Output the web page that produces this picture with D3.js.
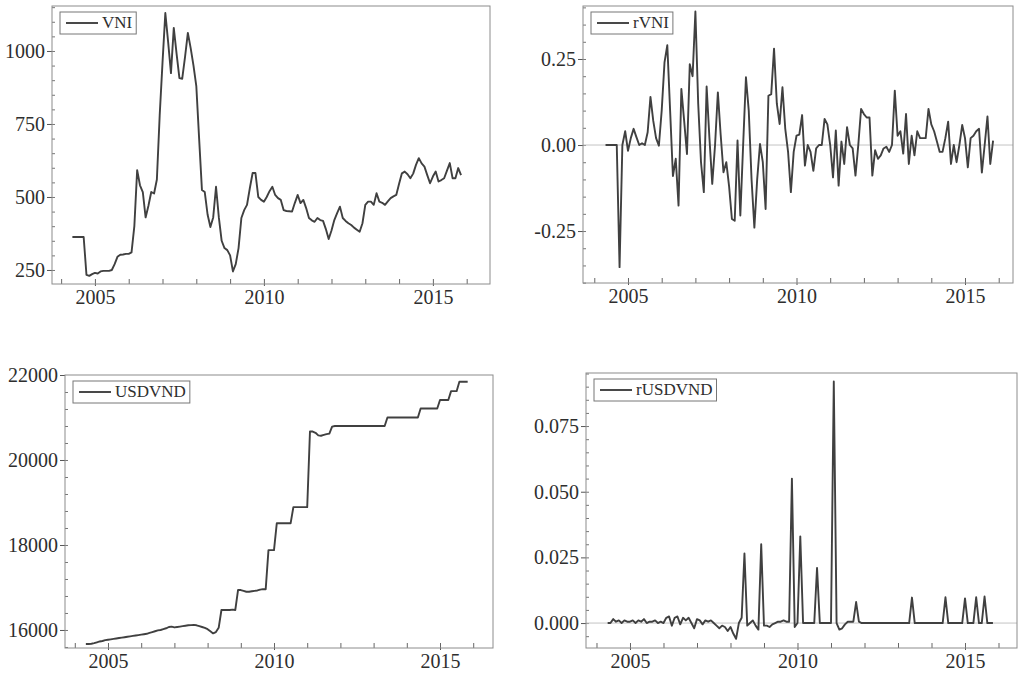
<!DOCTYPE html>
<html>
<head>
<meta charset="utf-8">
<script src="https://cdn.jsdelivr.net/npm/d3@7"></script>
<style>
  body { margin: 0; background: #fff; }
  svg text { font-family: "Liberation Serif", "Times New Roman", Times, serif; fill: #2e2e2e; }
</style>
</head>
<body>
<svg id="chart" width="1019" height="674"></svg>
<script>
// monthly observations, May 2004 .. Nov 2015
const startYear = 2004, startMonth = 4;
const serif = '"Liberation Serif", "Times New Roman", Times, serif';

const vni = [
  363, 363, 363, 363, 363, 233, 230, 236,
  240, 238, 245, 247, 247, 247, 250, 270, 295, 302, 303, 305,
  305, 310, 400, 592, 540, 517, 430, 470, 517, 512, 560, 780,
  960, 1130, 1030, 924, 1079, 990, 907, 905, 980, 1062, 1010, 950,
  880, 700, 524, 517, 440, 397, 430, 535, 430, 350, 325, 318,
  300, 245, 270, 325, 428, 455, 473, 530, 582, 582, 500, 490,
  484, 500, 520, 535, 507, 496, 490, 455, 452, 451, 450, 480,
  507, 479, 490, 462, 428, 420, 415, 428, 421, 418, 390, 356,
  385, 421, 445, 467, 428, 418, 410, 404, 395, 388, 381, 410,
  473, 484, 484, 473, 513, 484, 480, 473, 485, 496, 502, 507,
  545, 581, 587, 578, 564, 580, 610, 633, 615, 604, 575, 547,
  570, 587, 553, 558, 564, 590, 616, 564, 564, 599, 575
];

const rvni = [
  0, 0, 0, 0, 0, -0.355, 0.0, 0.04,
  -0.017, 0.02, 0.047, 0.023, 0.0, 0.005, 0.0, 0.037, 0.14, 0.07, 0.02, -0.002,
  0.1, 0.24, 0.29, 0.1, -0.09, -0.04, -0.176, 0.163, 0.07, -0.026, 0.235, 0.2,
  0.388, 0.12, -0.05, -0.137, 0.17, 0.02, -0.113, 0.0, 0.153, 0.03, -0.079, -0.05,
  -0.12, -0.215, -0.22, 0.013, -0.205, 0.0, 0.197, 0.1, -0.1, -0.24, -0.1, 0.003,
  -0.05, -0.186, 0.143, 0.148, 0.28, 0.12, 0.061, 0.168, 0.047, -0.02, -0.137, -0.02,
  0.027, 0.03, 0.087, -0.06, 0.0, -0.02, -0.075, -0.01, 0.0, 0.0, 0.076, 0.06,
  0.0, -0.094, 0.042, -0.118, 0.01, -0.055, 0.052, 0.0, -0.01, -0.089, 0.0, 0.105,
  0.09, 0.08, 0.08, -0.089, -0.015, -0.04, -0.03, -0.01, -0.005, -0.02, 0.0, 0.158,
  0.027, 0.04, -0.025, 0.09, -0.055, 0.027, -0.03, 0.04, 0.02, 0.02, 0.02, 0.105,
  0.06, 0.04, 0.01, -0.02, -0.02, 0.02, 0.068, -0.055, 0.0, -0.05, 0.0, 0.058,
  0.02, -0.065, 0.02, 0.027, 0.04, 0.047, -0.08, 0.0, 0.083, -0.055, 0.013
];

const usdvnd = [
  15670, 15670, 15675, 15690, 15710, 15730, 15740, 15760,
  15770, 15780, 15790, 15800, 15810, 15820, 15830, 15840, 15850, 15860, 15870, 15880,
  15890, 15900, 15910, 15930, 15950, 15970, 15990, 16000, 16020, 16040, 16070, 16080,
  16060, 16070, 16080, 16090, 16100, 16110, 16115, 16120, 16110, 16090, 16070, 16050,
  16020, 15970, 15920, 15950, 16050, 16470, 16470, 16470, 16470, 16480, 16470, 16940,
  16940, 16920, 16900, 16900, 16910, 16920, 16930, 16950, 16960, 16960, 17880, 17880,
  17880, 18510, 18510, 18510, 18510, 18510, 18510, 18890, 18890, 18890, 18890, 18890,
  18890, 20670, 20670, 20640, 20580, 20570, 20590, 20610, 20620, 20785, 20800, 20800,
  20800, 20800, 20800, 20800, 20800, 20800, 20800, 20800, 20800, 20800, 20800, 20800,
  20800, 20800, 20800, 20800, 20800, 21000, 21000, 21000, 21000, 21000, 21000, 21000,
  21000, 21000, 21000, 21000, 21000, 21210, 21210, 21210, 21210, 21210, 21210, 21210,
  21410, 21410, 21410, 21410, 21620, 21620, 21620, 21840, 21840, 21840, 21840
];

const rusdvnd = [
  0, 0, 0.0015, 0.0005, 0.001, 0.0, 0.001, 0.0005,
  0.0005, 0.001, 0.0, 0.001, 0.0005, 0.0015, 0.0, 0.0005, 0.0005, 0.001, 0.0, 0.0005,
  0.0, 0.002, 0.0025, -0.001, 0.002, 0.0025, -0.0005, 0.002, 0.001, 0.002, 0.0, -0.002,
  0.0015, 0.001, -0.0005, 0.001, 0.0005, 0.001, 0.0, -0.001, -0.002, -0.001, -0.0015, -0.003,
  -0.0015, -0.004, -0.006, 0.0, 0.002, 0.0265, -0.001, 0.0, 0.001, -0.001, -0.0025, 0.03,
  -0.001, -0.001, -0.0015, -0.0005, 0.0, 0.0005, 0.0005, 0.001, 0.0005, 0.0005, 0.055, -0.0015,
  0.0, 0.033, 0, 0, 0, 0, 0, 0.021, 0, 0, 0, 0,
  0, 0.092, 0, -0.0025, -0.002, -0.0005, 0.0005, 0.0005, 0.0005, 0.008, 0.0005, 0,
  0, 0, 0, 0, 0, 0, 0, 0, 0, 0, 0, 0,
  0, 0, 0, 0, 0, 0.0097, 0, 0, 0, 0, 0, 0,
  0, 0, 0, 0, 0, 0.0098, 0, 0, 0, 0, 0, 0,
  0.0094, 0, 0, 0, 0.0098, 0, 0, 0.0101, 0, 0, 0
];

const yearTicks = [2005, 2010, 2015];
const vniTicks = [250, 500, 750, 1000];
const rvniTicks = [-0.25, 0, 0.25];
const usdTicks = [16000, 18000, 20000, 22000];
const rusdTicks = [0, 0.025, 0.05, 0.075];

const months = vni.map((d, i) => startYear + (startMonth + i) / 12);

const panels = [
  { name: "VNI", values: vni, box: [52, 6, 490, 284], xDom: [2003.73, 2016.69], yDom: [202, 1154],
    ticks: vniTicks, minor: 50, fmt: d => d.toFixed(0), zero: false },
  { name: "rVNI", values: rvni, box: [583, 6, 1013, 283], xDom: [2003.665, 2016.424], yDom: [-0.401, 0.404],
    ticks: rvniTicks, minor: 0.05, fmt: d => d.toFixed(2), zero: true },
  { name: "USDVND", values: usdvnd, box: [65, 375, 493, 648], xDom: [2003.705, 2016.596], yDom: [15576, 22000],
    ticks: usdTicks, minor: 400, fmt: d => d.toFixed(0), zero: false },
  { name: "rUSDVND", values: rusdvnd, box: [586, 373, 1017, 648], xDom: [2003.687, 2016.552], yDom: [-0.0095, 0.0952],
    ticks: rusdTicks, minor: 0.005, fmt: d => d.toFixed(3), zero: true }
];

const svg = d3.select("#chart");

panels.forEach(p => {
  const [x0, y0, x1, y1] = p.box;
  const x = d3.scaleLinear().domain(p.xDom).range([x0, x1]);
  const y = d3.scaleLinear().domain(p.yDom).range([y1, y0]);
  const g = svg.append("g");

  // minor ticks
  const yMinor = d3.range(Math.ceil(p.yDom[0] / p.minor) * p.minor, p.yDom[1], p.minor);
  g.append("g")
    .attr("transform", "translate(" + x0 + ",0)")
    .call(d3.axisLeft(y).tickValues(yMinor).tickSize(-3).tickFormat(""))
    .call(a => a.select(".domain").remove())
    .selectAll("line").attr("stroke", "#777");

  const xMinor = d3.range(Math.ceil(p.xDom[0]), p.xDom[1]);
  g.append("g")
    .attr("transform", "translate(0," + y1 + ")")
    .call(d3.axisBottom(x).tickValues(xMinor).tickSize(-5).tickFormat(""))
    .call(a => a.select(".domain").remove())
    .selectAll("line").attr("stroke", "#666");

  // major ticks + labels
  g.append("g")
    .attr("transform", "translate(" + x0 + ",0)")
    .attr("font-family", serif)
    .call(d3.axisLeft(y).tickValues(p.ticks).tickSize(5).tickPadding(2).tickFormat(p.fmt))
    .call(a => a.select(".domain").remove())
    .call(a => a.selectAll("line").attr("stroke", "#555"))
    .selectAll("text")
    .attr("font-family", serif).attr("font-size", 20).attr("fill", "#2e2e2e");

  g.append("g")
    .attr("transform", "translate(0," + y1 + ")")
    .attr("font-family", serif)
    .call(d3.axisBottom(x).tickValues(yearTicks).tickSize(2).tickPadding(4).tickFormat(d3.format("d")))
    .call(a => a.select(".domain").remove())
    .call(a => a.selectAll("line").attr("stroke", "#555"))
    .selectAll("text")
    .attr("font-family", serif).attr("font-size", 20).attr("fill", "#2e2e2e");

  if (p.zero) {
    g.append("line")
      .attr("x1", x0).attr("x2", x1)
      .attr("y1", y(0)).attr("y2", y(0))
      .attr("stroke", "#c4c4c4");
  }

  // frame
  g.append("rect")
    .attr("x", x0).attr("y", y0)
    .attr("width", x1 - x0).attr("height", y1 - y0)
    .attr("fill", "none").attr("stroke", "#8c8c8c");

  const line = d3.line()
    .x((d, i) => x(months[i]))
    .y(d => y(d));

  g.append("path")
    .datum(p.values)
    .attr("d", line)
    .attr("fill", "none")
    .attr("stroke", "#404040")
    .attr("stroke-width", 1.9)
    .attr("stroke-linejoin", "round");

  // legend
  const bx = x0 + 8, by = y0 + 6;
  const lg = g.append("g");
  const txt = lg.append("text")
    .attr("x", bx + 42).attr("y", by + 16)
    .attr("font-family", serif)
    .attr("font-size", 17)
    .text(p.name);
  const tw = txt.node().getComputedTextLength();
  lg.insert("rect", "text")
    .attr("x", bx).attr("y", by)
    .attr("width", tw + 46).attr("height", 22)
    .attr("fill", "#fff").attr("stroke", "#777");
  lg.append("line")
    .attr("x1", bx + 6).attr("x2", bx + 38)
    .attr("y1", by + 11).attr("y2", by + 11)
    .attr("stroke", "#404040").attr("stroke-width", 1.9);
});
</script>
</body>
</html>
